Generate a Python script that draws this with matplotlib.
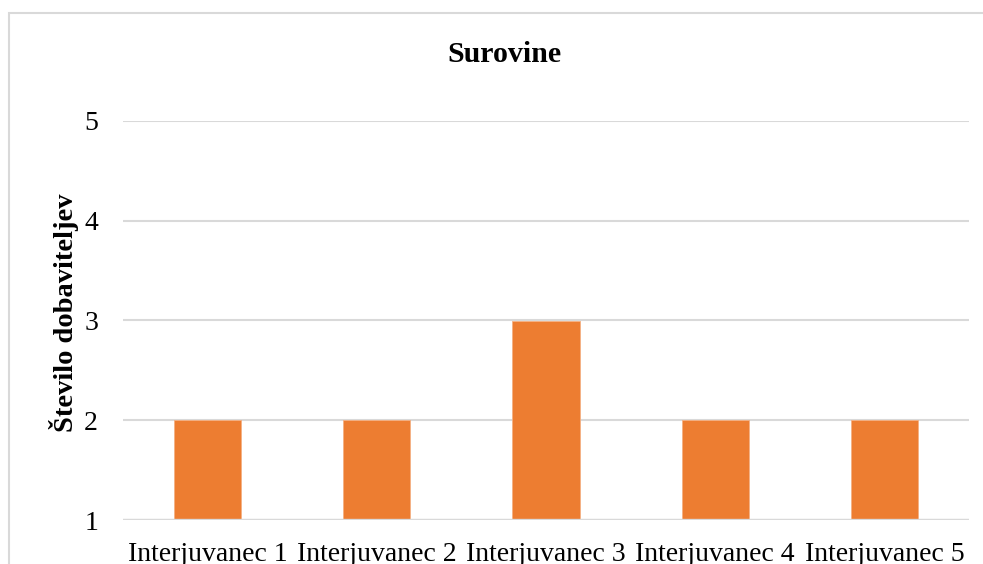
import matplotlib
matplotlib.use("Agg")
import matplotlib.pyplot as plt
from matplotlib.patches import Rectangle

categories = ["Interjuvanec 1", "Interjuvanec 2", "Interjuvanec 3",
              "Interjuvanec 4", "Interjuvanec 5"]
values = [2, 2, 3, 2, 2]
y_ticks = [1, 2, 3, 4, 5]
title = "Surovine"
y_label = "Število dobaviteljev"

plt.rcParams["font.family"] = ["Liberation Serif", "DejaVu Serif"]

W, H = 983, 564
fig = plt.figure(figsize=(W / 100, H / 100), dpi=100)

# chart frame
fig.patches.append(Rectangle((9 / W, -0.1), 1.1, (H - 13) / H + 0.1,
                             transform=fig.transFigure, fill=False,
                             edgecolor="#D9D9D9", linewidth=1.5))

ax = fig.add_axes([123 / W, (H - 520) / H, (969 - 123) / W, (520 - 121) / H])
x = list(range(len(categories)))
base = y_ticks[0]
ax.bar(x, [v - base for v in values], bottom=base, width=0.396,
       color="#ED7D31", edgecolor="#F4B183", linewidth=0.6, zorder=2)

ax.set_xlim(-0.5, len(categories) - 0.5)
ax.set_ylim(y_ticks[0], y_ticks[-1])
ax.set_yticks(y_ticks)
ax.set_xticks(x)
ax.set_xticklabels(categories)
ax.tick_params(axis="both", length=0, labelsize=20, colors="black")
ax.tick_params(axis="y", pad=18)
ax.tick_params(axis="x", pad=16)
ax.yaxis.grid(True, color="#D9D9D9", linewidth=1.5, zorder=1)
ax.set_axisbelow(True)
for s in ax.spines.values():
    s.set_visible(False)
ax.axhline(base, color="#D9D9D9", linewidth=1.7, zorder=3)

ax.set_ylabel(y_label, fontsize=20.5, fontweight="bold")
ax.yaxis.set_label_coords(-0.052, 0.52)

fig.text(504 / W, 1 - 54 / H, title, ha="center", va="center",
         fontsize=21.5, fontweight="bold")

fig.savefig("out.png", dpi=100)
